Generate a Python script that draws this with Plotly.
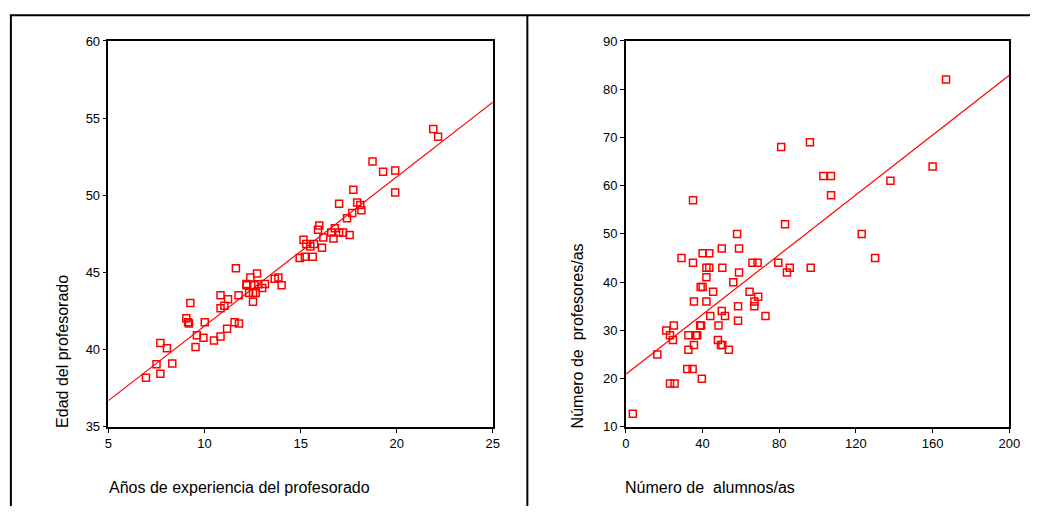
import plotly.graph_objects as go

# Left panel: years of teaching experience vs. teacher age
exp_years = [21.9, 22.15, 18.74, 19.29, 19.92, 19.92, 17.74, 17.0, 17.94, 18.1,
             18.16, 17.68, 17.41, 15.97, 15.9, 16.78, 16.59, 16.71, 17.0, 17.21,
             17.55, 16.18, 15.15, 15.29, 15.5, 15.7, 16.11, 14.95, 15.22, 15.63,
             11.63, 12.73, 12.38, 12.18, 12.18, 12.59, 12.79, 13.14, 13.0, 13.65,
             13.84, 14.01, 12.32, 12.52, 12.66, 12.52, 11.77, 10.83, 11.22, 11.03,
             10.83, 9.26, 9.05, 9.14, 9.19, 10.01, 11.56, 11.79, 11.17, 9.6,
             9.94, 10.83, 10.49, 9.53, 7.7, 8.04, 7.5, 8.32, 7.7, 6.95]
teacher_age = [54.3, 53.8, 52.2, 51.53, 51.61, 50.19, 50.36, 49.45, 49.53, 49.37,
               49.03, 48.86, 48.52, 48.05, 47.77, 47.86, 47.6, 47.2, 47.6, 47.6,
               47.43, 47.27, 47.12, 46.85, 46.68, 46.85, 46.61, 45.94, 46.02, 46.02,
               45.27, 44.93, 44.68, 44.26, 44.17, 44.17, 44.24, 44.26, 44.0, 44.6,
               44.68, 44.17, 43.67, 43.67, 43.67, 43.1, 43.52, 43.52, 43.27, 42.85,
               42.69, 43.02, 42.03, 41.78, 41.7, 41.78, 41.78, 41.7, 41.36, 40.94,
               40.77, 40.86, 40.6, 40.18, 40.43, 40.09, 39.05, 39.11, 38.44, 38.19]
age_fit_x = [5, 25]
age_fit_y = [36.7, 56.04]

# Right panel: number of pupils vs. number of teachers
pupils = [167, 96, 81, 160, 103, 107, 138, 107, 35, 83,
          58, 123, 50, 59, 40, 43.5, 29, 130, 35, 66,
          68.7, 79.5, 42, 43.5, 50.3, 85.5, 96.4, 59, 84, 42,
          56, 39, 40, 45.5, 64.5, 69, 35.5, 42, 67, 58.5,
          67, 50, 44, 51.7, 72.8, 58.5, 21, 25, 38.7, 39.2,
          48.3, 23, 32.6, 36.5, 37.2, 24.5, 48, 35.5, 49.6, 50.3,
          32.6, 53.7, 16.4, 32, 34.8, 39.6, 23, 25.4, 3.6]
teachers = [82, 69, 68, 64, 62, 62, 61, 58, 57, 52,
            50, 50, 47, 47, 46, 46, 45, 45, 44, 44,
            44, 44, 43, 43, 43, 43, 43, 42, 42, 41,
            40, 39, 39, 38, 38, 37, 36, 36, 36, 35,
            35, 34, 33, 33, 33, 32, 30, 31, 31, 31,
            31, 29, 29, 29, 29, 28, 28, 27, 27, 27,
            26, 26, 25, 22, 22, 20, 19, 19, 12.7]
teach_fit_x = [0, 200]
teach_fit_y = [20.9, 82.9]

W, H = 1041, 514
FONT = "Liberation Sans, Arial, sans-serif"
RED = "#ff0000"

fig = go.Figure()

marker = dict(symbol="square-open", size=7, color=RED, line=dict(color=RED, width=1.5))

fig.add_trace(go.Scatter(x=exp_years, y=teacher_age, mode="markers", marker=marker,
                         xaxis="x", yaxis="y", showlegend=False))
fig.add_trace(go.Scatter(x=age_fit_x, y=age_fit_y, mode="lines",
                         line=dict(color=RED, width=1.2), xaxis="x", yaxis="y",
                         showlegend=False))
fig.add_trace(go.Scatter(x=pupils, y=teachers, mode="markers", marker=marker,
                         xaxis="x2", yaxis="y2", showlegend=False))
fig.add_trace(go.Scatter(x=teach_fit_x, y=teach_fit_y, mode="lines",
                         line=dict(color=RED, width=1.2), xaxis="x2", yaxis="y2",
                         showlegend=False))

ydom = [(H - 432.5) / H, (H - 35) / H]

axis_common = dict(
    showgrid=False, zeroline=False, showline=True, linecolor="black", linewidth=1.5,
    mirror=True, ticks="outside", ticklen=4, tickwidth=1.2, tickcolor="black",
    tickfont=dict(family=FONT, size=13, color="black"),
)

fig.update_layout(
    width=W, height=H,
    margin=dict(l=0, r=0, t=0, b=0),
    paper_bgcolor="white", plot_bgcolor="white",
    xaxis=dict(domain=[106 / W, 496 / W], range=[5, 25], tickvals=[5, 10, 15, 20, 25],
               anchor="y", **axis_common),
    yaxis=dict(domain=ydom, range=[35, 60], tickvals=[35, 40, 45, 50, 55, 60],
               anchor="x", **axis_common),
    xaxis2=dict(domain=[631 / W, 1020 / W], range=[0, 200],
                tickvals=[0, 40, 80, 120, 160, 200], anchor="y2", **axis_common),
    yaxis2=dict(domain=ydom, range=[10, 90], tickvals=list(range(10, 91, 10)),
                anchor="x2", **axis_common),
)

# Panel frame lines
frame = dict(color="black", width=2)
fig.add_shape(type="line", xref="paper", yref="paper",
              x0=6 / W, x1=1, y0=1 - 8.5 / H, y1=1 - 8.5 / H, line=frame)
fig.add_shape(type="line", xref="paper", yref="paper",
              x0=7 / W, x1=7 / W, y0=0, y1=1 - 8.5 / H, line=frame)
fig.add_shape(type="line", xref="paper", yref="paper",
              x0=531 / W, x1=531 / W, y0=0, y1=1 - 8.5 / H, line=frame)

title_font = dict(family=FONT, size=16, color="black")
fig.add_annotation(text="Años de experiencia del profesorado", xref="paper", yref="paper",
                   x=104 / W, y=(H - 495) / H, xanchor="left", yanchor="middle",
                   showarrow=False, font=title_font)
fig.add_annotation(text="Número de\u00a0 alumnos/as", xref="paper", yref="paper",
                   x=628 / W, y=(H - 495) / H, xanchor="left", yanchor="middle",
                   showarrow=False, font=title_font)
fig.add_annotation(text="Edad del profesorado", xref="paper", yref="paper",
                   x=60 / W, y=(H - 436) / H, xanchor="center", yanchor="bottom",
                   textangle=-90, showarrow=False, font=title_font)
fig.add_annotation(text="Número de\u00a0 profesores/as", xref="paper", yref="paper",
                   x=582 / W, y=(H - 436) / H, xanchor="center", yanchor="bottom",
                   textangle=-90, showarrow=False, font=title_font)

fig.write_html("out.html")
